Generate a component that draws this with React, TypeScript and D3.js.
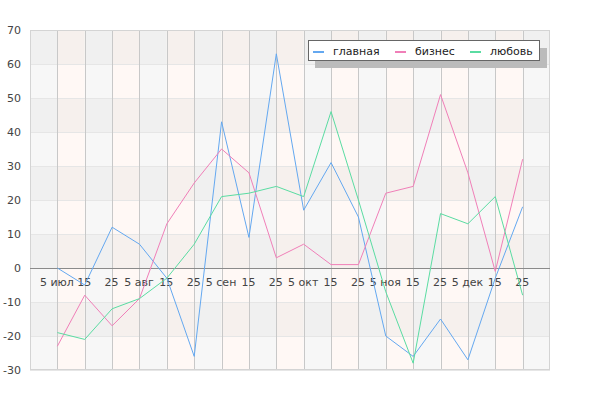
import * as d3 from 'd3';
import { useEffect, useRef } from 'react';

const width = 600;
const height = 400;
const margin = { top: 30, left: 30, bottom: 30, right: 50 };

const tickLabels = [
  '5 июл', '15', '25', '5 авг', '15', '25', '5 сен', '15', '25',
  '5 окт', '15', '25', '5 ноя', '15', '25', '5 дек', '15', '25',
];
const seriesNames = ['главная', 'бизнес', 'любовь'];
const mainValues = [0, -5, 12, 7, -3, -26, 43, 9, 63, 17, 31, 15, -20, -26, -15, -27, -3, 18];
const businessValues = [-23, -8, -17, -9, 13, 25, 35, 28, 3, 7, 1, 1, 22, 24, 51, 28, -1, 32];
const loveValues = [-19, -21, -12, -9, -3, 7, 21, 22, 24, 21, 46, 20, -7, -28, 16, 13, 21, -8];
const yTicks = [-30, -20, -10, 0, 10, 20, 30, 40, 50, 60, 70];

const colors = ['#64a8f0', '#f07fb8', '#5adca2'];
const font = 'DejaVu Sans, sans-serif';

function App() {
  const wrapperRef = useRef<HTMLDivElement>(null);

  useEffect(() => {
    const wrapper = d3.select(wrapperRef.current);
    const svg = wrapper
      .append('svg')
      .attr('width', width)
      .attr('height', height)
      .style('display', 'block');

    const idx = tickLabels.map((_, i) => i);
    const xScale = d3
      .scalePoint<number>()
      .domain(idx)
      .range([margin.left, width - margin.right])
      .padding(1);
    const yScale = d3
      .scaleLinear()
      .domain([-30, 70])
      .range([height - margin.bottom, margin.top]);

    // background cells
    const colEdges = [margin.left, ...idx.map((i) => xScale(i) as number), width - margin.right];
    const bg = svg.append('g');
    for (let c = 0; c < colEdges.length - 1; c++) {
      for (let r = 0; r < yTicks.length - 1; r++) {
        const top = yScale(yTicks[yTicks.length - 1 - r]);
        const bottom = yScale(yTicks[yTicks.length - 2 - r]);
        const dark = r % 2 === 0;
        const pink = c % 2 === 1;
        bg.append('rect')
          .attr('x', colEdges[c])
          .attr('y', top)
          .attr('width', colEdges[c + 1] - colEdges[c])
          .attr('height', bottom - top)
          .attr('fill', pink ? (dark ? '#f6f0ed' : '#fff8f5') : dark ? '#f0f0f0' : '#f7f7f7');
      }
    }

    // horizontal grid
    svg
      .append('g')
      .selectAll('line')
      .data(yTicks)
      .join('line')
      .attr('x1', margin.left)
      .attr('x2', width - margin.right)
      .attr('y1', (d) => Math.round(yScale(d)) + 0.5)
      .attr('y2', (d) => Math.round(yScale(d)) + 0.5)
      .attr('stroke', '#e6e6e6');

    // vertical grid
    svg
      .append('g')
      .selectAll('line')
      .data(idx)
      .join('line')
      .attr('x1', (d) => Math.round(xScale(d) as number) + 0.5)
      .attr('x2', (d) => Math.round(xScale(d) as number) + 0.5)
      .attr('y1', margin.top)
      .attr('y2', height - margin.bottom)
      .attr('stroke', '#c8c8c8');

    // frame
    svg
      .append('rect')
      .attr('x', margin.left + 0.5)
      .attr('y', margin.top + 0.5)
      .attr('width', width - margin.left - margin.right - 1)
      .attr('height', height - margin.top - margin.bottom - 1)
      .attr('fill', 'none')
      .attr('stroke', '#d4d4d4');

    // zero line
    svg
      .append('line')
      .attr('x1', margin.left)
      .attr('x2', width - margin.right)
      .attr('y1', Math.round(yScale(0)) + 0.5)
      .attr('y2', Math.round(yScale(0)) + 0.5)
      .attr('stroke', '#8a8a8a');

    // axes
    const xAxis = svg
      .append('g')
      .attr('transform', `translate(-1, ${yScale(0)})`)
      .call(
        d3
          .axisBottom(xScale)
          .tickSize(0)
          .tickPadding(10)
          .tickFormat((d) => tickLabels[d as number])
      );
    xAxis.select('.domain').remove();

    const yAxis = svg
      .append('g')
      .attr('transform', `translate(${margin.left}, 0)`)
      .call(
        d3
          .axisLeft(yScale)
          .tickValues(yTicks)
          .tickSize(0)
          .tickPadding(9)
          .tickFormat((d) => String(d))
      );
    yAxis.select('.domain').remove();

    svg
      .selectAll('.tick text')
      .attr('font-family', font)
      .attr('font-size', 11)
      .attr('fill', '#444');

    // lines
    const line = d3
      .line<number>()
      .x((_, i) => xScale(i) as number)
      .y((d) => yScale(d));
    [mainValues, businessValues, loveValues].forEach((values, i) => {
      svg
        .append('path')
        .datum(values)
        .attr('d', line)
        .attr('fill', 'none')
        .attr('stroke', colors[i])
        .attr('stroke-width', 1);
    });

    // legend
    const legend = svg.append('g');
    legend
      .append('rect')
      .attr('x', 315)
      .attr('y', 48)
      .attr('width', 232)
      .attr('height', 20)
      .attr('fill', '#bbbbbb');
    legend
      .append('rect')
      .attr('x', 308.5)
      .attr('y', 40.5)
      .attr('width', 231)
      .attr('height', 20)
      .attr('fill', '#ffffff')
      .attr('stroke', '#666');
    const swatchX = [313, 395, 470];
    seriesNames.forEach((name, i) => {
      legend
        .append('line')
        .attr('x1', swatchX[i])
        .attr('x2', swatchX[i] + 11)
        .attr('y1', 52)
        .attr('y2', 52)
        .attr('stroke', colors[i])
        .attr('stroke-width', 2);
      legend
        .append('text')
        .attr('x', swatchX[i] + 20)
        .attr('y', 55)
        .attr('font-family', font)
        .attr('font-size', 11)
        .attr('fill', '#222')
        .text(name);
    });

    return () => {
      wrapper.select('svg').remove();
    };
  }, []);

  return <div ref={wrapperRef} style={{ position: 'absolute', left: 0, top: 0 }}></div>;
}

export default App;
